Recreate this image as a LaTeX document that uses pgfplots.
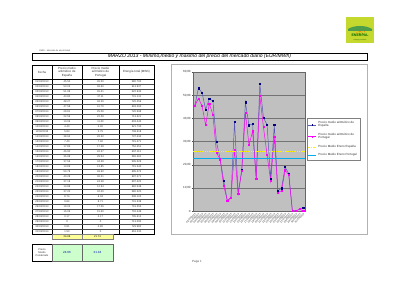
\documentclass[border=0pt]{standalone}
\usepackage{pgfplots}
\pgfplotsset{compat=1.18}
\usepackage{fontspec}
\setmainfont{Liberation Sans}
\newcommand{\fs}[2]{\fontsize{#1}{#2}\selectfont}
\definecolor{plotgrey}{HTML}{C0C0C0}
\definecolor{esblue}{HTML}{000080}
\definecolor{esline}{HTML}{5A5AB4}
\definecolor{ptmag}{HTML}{FF00FF}
\definecolor{logogreen}{HTML}{C4D82E}
\definecolor{lightyellow}{HTML}{FFFF99}
\definecolor{lightgreen}{HTML}{CCFFCC}
\begin{document}
\begin{tikzpicture}
\useasboundingbox (0pt,0pt) rectangle (400pt,-283pt);
\begin{scope}[x=1pt,y=-1pt]
% logo
\fill[logogreen] (346,17) rectangle (374,43);
\fill[orange!90!yellow] (360,27) ++(-5,0) arc (180:0:5) -- cycle;
\foreach \a in {20,45,...,160} \draw[orange, line width=0.4pt] (360,27) ++(\a:5.5) -- ++(\a:2);
\fill[green!45!black!70] (348,29) .. controls (354,25) and (366,25) .. (372,29) -- (372,31) -- (348,31) -- cycle;
\node[font=\fs{3.6}{4}\bfseries, text=green!40!black] at (360,35) {ENERPAL};
\node[font=\fs{1.5}{2}, text=green!30!black] at (360,40) {energía y servicios};
% small header text
\node[anchor=west, font=\fs{2.2}{2.5}, text=black!70, inner sep=0] at (39,50.7) {OMIE - Mercado de electricidad};
% title box
\draw[line width=0.5pt] (32,53) rectangle (367,60);
\node[font=\fs{5}{6}\itshape] at (199.5,56.6) {MARZO 2013 - Mínimo,medio y máximo del precio del mercado diario (EUR/MWh)};
% chart frame
\draw[black!30, line width=0.4pt, fill=white] (171,64) rectangle (367,234);
% table header
\draw[line width=0.3pt] (32,65) rectangle (154,234);
\foreach \x in {52,82,119} \draw[line width=0.3pt] (\x,65) -- (\x,234);
\draw[line width=0.3pt] (32,79) -- (154,79);
\node[font=\fs{3}{3.4}, text=black!80] at (42,72) {Fecha};
\node[font=\fs{3}{3.4}, text=black!80, align=center] at (67,72) {Precio medio\\aritmético de\\España};
\node[font=\fs{3}{3.4}, text=black!80, align=center] at (100.5,72) {Precio medio\\aritmético de\\Portugal};
\node[font=\fs{3}{3.4}, text=black!80] at (136.5,72) {Energía total (MWh)};
\foreach \i in {1,...,30} \draw[line width=0.2pt, black!70] (32,{79+5*\i}) -- (154,{79+5*\i});
\foreach \d/\s/\p/\e [count=\i] in {
01/45.50/45.50/580.700, 02/53.03/48.60/613.937, 03/51.08/45.41/522.945, 04/43.80/37.11/731.131,
05/48.27/46.26/720.259, 06/47.58/41.70/693.265, 07/29.81/25.06/720.598, 08/22.59/22.28/713.621,
09/13.06/11.03/603.443, 10/4.40/4.40/521.730, 11/5.83/5.75/738.618, 12/38.64/26.32/737.434,
13/7.40/7.40/715.271, 14/17.85/17.28/752.451, 15/46.90/42.37/687.113, 16/36.98/28.54/565.281,
17/37.56/34.38/505.529, 18/13.89/13.85/715.340, 19/54.78/49.60/695.474, 20/40.28/36.21/697.271,
21/37.18/24.28/697.420, 22/13.88/12.94/682.548, 23/37.20/32.00/580.320, 24/8.74/8.04/508.102,
25/9.84/8.71/701.338, 26/19.02/17.56/719.355, 27/16.09/15.60/702.448, 28/0.17/0.17/705.612,
29/0/0/713.095, 30/0.81/0.80/729.980, 31/1.50/0/663.230} {
  \node[font=\fs{2.6}{3}, text=black!80] at (42,{76.5+5*\i}) {\d/03/2013};
  \node[font=\fs{2.6}{3}, text=black!80] at (67,{76.5+5*\i}) {\s};
  \node[font=\fs{2.6}{3}, text=black!80] at (100.5,{76.5+5*\i}) {\p};
  \node[font=\fs{2.6}{3}, text=black!80] at (136.5,{76.5+5*\i}) {\e};
}
% yellow row
\fill[lightyellow] (52,234.3) rectangle (113,239);
\draw[black!50, line width=0.3pt] (52,234.3) rectangle (113,239) (82,234.3) -- (82,239);
\node[font=\fs{2.6}{3}] at (67,236.7) {24.69};
\node[font=\fs{2.6}{3}] at (97.5,236.7) {21.74};
% weighted average box
\draw[line width=0.3pt] (32,244) rectangle (52,261);
\node[font=\fs{2.6}{3.1}, align=center, text=black!80] at (42,252.5) {Precio\\Medio\\Ponderado};
\fill[lightgreen] (52,244) rectangle (113,261);
\draw[black!60, line width=0.6pt] (52,244) rectangle (113,261) (82,244) -- (82,261);
\node[font=\fs{3}{3.4}, text=blue!70!black] at (67,252.5) {24.66};
\node[font=\fs{3}{3.4}, text=blue!70!black] at (97.5,252.5) {21.34};
% page footer
\node[font=\fs{3}{3.4}, text=black!70] at (197,262) {Page 1};
\end{scope}

\begin{axis}[
  at={(193pt,-211pt)}, anchor=south west,
  scale only axis, width=112pt, height=139pt,
  xmin=0.5, xmax=31.5, ymin=0, ymax=60,
  axis background/.style={fill=plotgrey},
  axis line style={draw=black!60, line width=0.3pt},
  ytick={0,10,20,30,40,50,60},
  yticklabels={0,{10,00},{20,00},{30,00},{40,00},{50,00},{60,00}},
  yticklabel style={font=\fs{3}{3.4}, text=black!80, inner sep=1pt},
  ymajorgrids,
  grid style={draw=black!55, line width=0.3pt},
  xtick={1,...,31},
  xticklabels={01/03/2013,02/03/2013,03/03/2013,04/03/2013,05/03/2013,06/03/2013,07/03/2013,08/03/2013,09/03/2013,10/03/2013,11/03/2013,12/03/2013,13/03/2013,14/03/2013,15/03/2013,16/03/2013,17/03/2013,18/03/2013,19/03/2013,20/03/2013,21/03/2013,22/03/2013,23/03/2013,24/03/2013,25/03/2013,26/03/2013,27/03/2013,28/03/2013,29/03/2013,30/03/2013,31/03/2013},
  xticklabel style={rotate=45, anchor=north east, font=\fs{2.5}{2.8}, text=black!80, inner sep=0.4pt},
  tick style={black!70, line width=0.3pt},
  major tick length=1.2pt,
  tick align=outside,
  xtick pos=bottom, ytick pos=left,
  legend style={at={(1.018,0.669)}, anchor=north west, draw=black!50, line width=0.3pt,
    fill=white, font=\fs{3}{3.6}, align=left, inner sep=1pt,
    row sep=0.6pt, text=black!80},
  legend cell align=left,
  legend image post style={scale=0.45},
  clip=false,
]
\addplot[esline, line width=0.5pt, mark=square*, mark size=0.6pt, mark options={esblue, solid}]
coordinates {(1,45.5)(2,53.0)(3,51.1)(4,43.8)(5,48.3)(6,47.6)(7,29.8)(8,22.6)(9,13.1)(10,4.4)
(11,5.8)(12,38.6)(13,7.4)(14,17.8)(15,46.9)(16,37.0)(17,37.6)(18,13.9)(19,54.8)(20,40.3)
(21,37.2)(22,13.9)(23,37.2)(24,8.7)(25,9.8)(26,19.0)(27,16.1)(28,0.2)(29,0)(30,0.8)(31,1.5)};
\addlegendentry{Precio medio aritmético de\\España}
\addplot[ptmag, line width=0.5pt, mark=square*, mark size=0.6pt]
coordinates {(1,45.5)(2,48.6)(3,45.4)(4,37.1)(5,46.3)(6,41.7)(7,25.1)(8,22.3)(9,11.0)(10,4.4)
(11,5.7)(12,26.3)(13,7.4)(14,17.3)(15,42.4)(16,28.5)(17,34.4)(18,13.9)(19,49.6)(20,36.2)
(21,24.3)(22,12.9)(23,32.0)(24,8.0)(25,8.7)(26,17.6)(27,15.6)(28,0.2)(29,0)(30,0.8)(31,0)};
\addlegendentry{Precio medio aritmético de\\Portugal}
\addplot[yellow, line width=0.6pt, dash pattern=on 1.5pt off 0.8pt]
coordinates {(0.5,25.9)(31.5,25.9)};
\addlegendentry{Precio Medio Enero España}
\addplot[cyan, line width=0.6pt]
coordinates {(0.5,22.6)(31.5,22.6)};
\addlegendentry{Precio Medio Enero Portugal}
\end{axis}
\end{tikzpicture}
\end{document}
